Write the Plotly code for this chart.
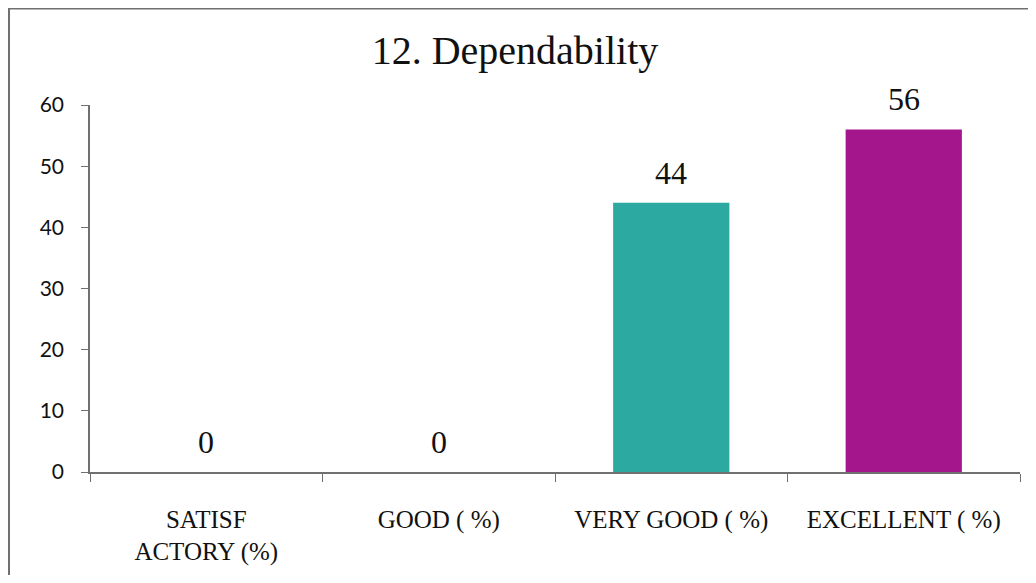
import plotly.graph_objects as go

categories = ["SATISF<br>ACTORY (%)", "GOOD ( %)", "VERY GOOD ( %)", "EXCELLENT ( %)"]
values = [0, 0, 44, 56]
bar_colors = ["#2ca9a1", "#2ca9a1", "#2ca9a1", "#a3168c"]
y_ticks = [0, 10, 20, 30, 40, 50, 60]
title_text = "12. Dependability"

OFF = 8  # page body margin
W, H = 1036 - 2 * OFF, 583 - 2 * OFF
L, R = 82, 1020 - OFF - 0
L, T = 82, 97
R = W - (1020 - OFF)
B = H - (472 - OFF)
pw, ph = W - L - R, H - T - B

def px(x):
    return (x - OFF - L) / pw

def py(y):
    return (H - B - (y - OFF)) / ph

fig = go.Figure()
fig.add_trace(go.Bar(
    x=categories, y=values,
    marker=dict(color=bar_colors, line=dict(width=0)),
    showlegend=False, hoverinfo="skip",
))

for c, v in zip(categories, values):
    fig.add_annotation(
        x=c, y=v, text=str(v), showarrow=False,
        yanchor="bottom", yshift=10,
        font=dict(family="Liberation Serif", size=32, color="#111111"),
    )

fig.update_layout(
    width=W, height=H,
    margin=dict(l=L, r=R, t=T, b=B),
    paper_bgcolor="white", plot_bgcolor="white",
    bargap=0.5,
    title=dict(text=title_text, x=(515 - OFF) / W, xanchor="center",
               y=1 - (50 - OFF) / H, yanchor="middle",
               font=dict(family="Liberation Serif", size=40, color="#111111")),
    xaxis=dict(
        showline=True, linecolor="#707070", linewidth=1.5,
        ticks="outside", ticklen=8, tickcolor="#707070", tickwidth=1.2,
        tickson="boundaries", showgrid=False,
        ticklabelstandoff=24,
        tickfont=dict(family="Liberation Serif", size=25, color="#111111"),
    ),
    yaxis=dict(
        range=[0, 60], tickvals=y_ticks,
        showline=True, linecolor="#707070", linewidth=1.5,
        ticks="outside", ticklen=7, tickcolor="#707070", tickwidth=1.2,
        showgrid=False, zeroline=False,
        ticklabelstandoff=13,
        tickfont=dict(family="Lato", size=21, color="#111111"),
    ),
    shapes=[
        dict(type="line", xref="paper", yref="paper",
             x0=px(7), x1=px(1040), y0=py(8.5), y1=py(8.5),
             line=dict(color="#707070", width=2)),
        dict(type="line", xref="paper", yref="paper",
             x0=px(9), x1=px(9), y0=py(7), y1=py(600),
             line=dict(color="#707070", width=2)),
    ],
)

fig.write_html("out.html")
